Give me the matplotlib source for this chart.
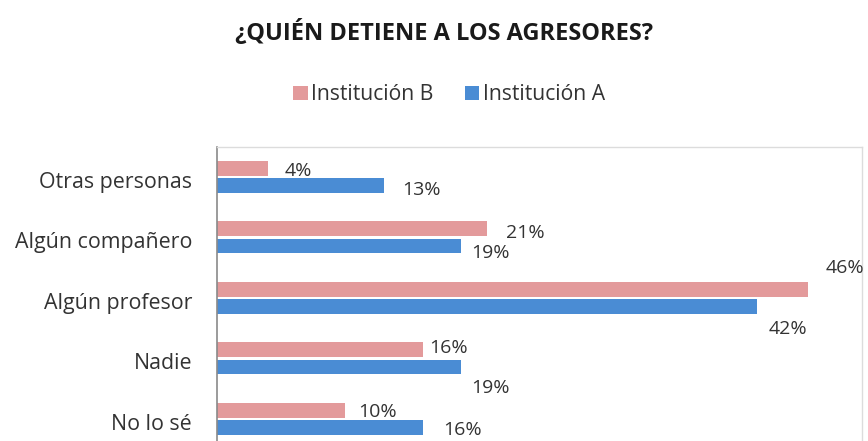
import numpy as np
import matplotlib.pyplot as plt

plt.rcParams['font.family'] = ['Open Sans', 'DejaVu Sans']

# Data
categories = ['Otras personas', 'Algún compañero', 'Algún profesor', 'Nadie', 'No lo sé']
inst_b = [4, 21, 46, 16, 10]
inst_a = [13, 19, 42, 19, 16]

# label offsets in points (dx, dy) for each bar label
offs_b = [(12, -2), (14, -3), (13, 15), (5, 1), (9, -1)]
offs_a = [(13, -3), (7, -5), (9, -16), (7, -15), (15, -2)]

c_b = '#E39A9B'
c_a = '#4A8CD4'
txt = '#333333'

fig = plt.figure(figsize=(8.68, 4.41), dpi=100)
ax = fig.add_axes([0.25, -0.018, 0.743, 0.685])

y = np.arange(len(categories))
h = 0.245
gap = 0.04
bb = ax.barh(y - h / 2 - gap / 2, inst_b, height=h, color=c_b, label='Institución B')
ba = ax.barh(y + h / 2 + gap / 2, inst_a, height=h, color=c_a, label='Institución A')

for bars, vals, offs in [(bb, inst_b, offs_b), (ba, inst_a, offs_a)]:
    for bar, v, (dx, dy) in zip(bars, vals, offs):
        ax.annotate(f'{v}%', (bar.get_width(), bar.get_y() + bar.get_height() / 2),
                    xytext=(dx, dy), textcoords='offset points',
                    ha='left', va='center', fontsize=14, color=txt)

ax.set_xlim(0, 50.2)
ax.set_ylim(len(categories) - 0.5, -0.5)
ax.set_yticks(y + 0.05)
ax.set_yticklabels(categories, fontsize=15.4, color=txt)
ax.tick_params(axis='y', length=0, pad=18)
ax.set_xticks([])

for s in ['top', 'right', 'bottom']:
    ax.spines[s].set_color('#dcdcdc')
    ax.spines[s].set_linewidth(1)
ax.spines['left'].set_color('#8a8a8a')
ax.spines['left'].set_linewidth(1.2)

fig.text(0.512, 0.925, '¿QUIÉN DETIENE A LOS AGRESORES?', ha='center', va='center',
         fontsize=17, fontweight='bold', color='#1a1a1a')

fig.legend(handles=[bb, ba], loc='center', bbox_to_anchor=(0.517, 0.785), ncol=2,
           frameon=False, fontsize=15.2, handlelength=0.7, handleheight=0.7,
           handletextpad=0.15, columnspacing=1.5, labelcolor=txt)

fig.savefig('out.png', dpi=100)
